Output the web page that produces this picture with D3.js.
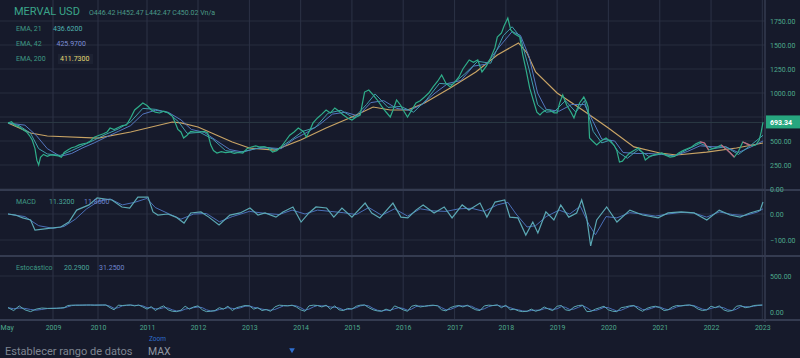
<!DOCTYPE html>
<html>
<head>
<meta charset="utf-8">
<script src="https://cdn.jsdelivr.net/npm/d3@7"></script>
<style>
  body { margin: 0; background: #161a2b; }
  svg { display: block; font-family: Roboto, "Open Sans", sans-serif; }
</style>
</head>
<body>
<div id="chart"></div>
<script>
// price series (weekly closes)
var priceData = [
  ["2008-05-01", 688], ["2008-05-20", 700], ["2008-06-10", 660], ["2008-07-01", 646], ["2008-07-20", 620],
  ["2008-08-10", 594], ["2008-08-25", 560], ["2008-09-10", 510], ["2008-09-25", 420], ["2008-10-05", 300],
  ["2008-10-15", 250], ["2008-10-25", 330], ["2008-11-10", 360], ["2008-12-01", 340], ["2008-12-20", 355],
  ["2009-01-15", 350], ["2009-02-15", 345], ["2009-03-10", 330], ["2009-04-01", 380], ["2009-05-01", 406],
  ["2009-06-01", 430], ["2009-07-01", 440], ["2009-08-01", 460], ["2009-09-01", 470], ["2009-10-01", 479],
  ["2009-11-01", 500], ["2009-12-01", 540], ["2010-01-10", 560], ["2010-02-10", 575], ["2010-03-10", 594],
  ["2010-04-01", 635], ["2010-05-01", 620], ["2010-06-01", 640], ["2010-07-01", 660], ["2010-08-01", 667],
  ["2010-09-01", 740], ["2010-10-01", 823], ["2010-11-01", 860], ["2010-12-01", 896], ["2011-01-01", 870],
  ["2011-02-01", 823], ["2011-03-01", 800], ["2011-04-01", 792], ["2011-05-01", 810], ["2011-06-01", 792],
  ["2011-07-01", 760], ["2011-07-20", 698], ["2011-08-10", 620], ["2011-09-01", 594], ["2011-09-20", 531],
  ["2011-10-15", 560], ["2011-11-10", 600], ["2011-12-10", 594], ["2012-01-15", 594], ["2012-02-15", 600],
  ["2012-03-10", 583], ["2012-04-01", 458], ["2012-04-20", 400], ["2012-05-15", 375], ["2012-06-15", 390],
  ["2012-07-15", 380], ["2012-08-15", 385], ["2012-09-15", 370], ["2012-10-15", 380], ["2012-11-15", 375],
  ["2012-12-15", 420], ["2013-01-15", 438], ["2013-02-15", 450], ["2013-03-15", 438], ["2013-04-15", 440],
  ["2013-05-15", 427], ["2013-06-15", 385], ["2013-07-15", 400], ["2013-08-15", 438], ["2013-09-15", 500],
  ["2013-10-15", 560], ["2013-11-15", 594], ["2013-12-15", 635], ["2014-01-20", 600], ["2014-02-10", 542],
  ["2014-03-10", 620], ["2014-03-30", 688], ["2014-05-01", 740], ["2014-06-01", 780], ["2014-07-01", 823],
  ["2014-08-01", 792], ["2014-09-01", 844], ["2014-10-01", 810], ["2014-11-01", 771], ["2014-12-01", 740],
  ["2015-01-01", 719], ["2015-02-01", 750], ["2015-03-01", 771], ["2015-04-01", 1010], ["2015-05-01", 1031],
  ["2015-06-01", 980], ["2015-07-01", 927], ["2015-08-01", 860], ["2015-09-01", 802], ["2015-10-01", 750],
  ["2015-10-20", 820], ["2015-11-15", 927], ["2015-12-15", 870], ["2016-01-01", 823], ["2016-02-01", 750],
  ["2016-03-01", 820], ["2016-04-01", 896], ["2016-05-01", 920], ["2016-06-01", 958], ["2016-07-01", 1000],
  ["2016-08-01", 1063], ["2016-09-01", 1120], ["2016-10-01", 1188], ["2016-11-01", 1100], ["2016-12-01", 1063],
  ["2017-01-01", 1110], ["2017-02-01", 1167], ["2017-03-01", 1250], ["2017-04-15", 1344], ["2017-05-15", 1320],
  ["2017-06-15", 1344], ["2017-07-15", 1219], ["2017-08-15", 1280], ["2017-09-15", 1365], ["2017-10-15", 1470],
  ["2017-11-01", 1583], ["2017-12-01", 1625], ["2017-12-20", 1700], ["2018-01-15", 1781], ["2018-02-05", 1656],
  ["2018-03-01", 1620], ["2018-04-10", 1583], ["2018-05-01", 1400], ["2018-05-25", 1240], ["2018-06-20", 1050],
  ["2018-07-15", 927], ["2018-08-10", 800], ["2018-09-01", 771], ["2018-09-20", 800], ["2018-10-15", 823],
  ["2018-11-10", 823], ["2018-12-10", 792], ["2019-01-01", 792], ["2019-01-20", 900], ["2019-02-10", 979],
  ["2019-03-10", 875], ["2019-04-10", 800], ["2019-05-01", 740], ["2019-05-20", 820], ["2019-06-10", 896],
  ["2019-07-10", 958], ["2019-07-30", 900], ["2019-08-10", 854], ["2019-08-20", 531], ["2019-09-10", 500],
  ["2019-10-10", 458], ["2019-11-10", 500], ["2019-12-15", 531], ["2020-01-10", 500], ["2020-02-10", 458],
  ["2020-03-01", 400], ["2020-03-20", 281], ["2020-04-10", 290], ["2020-05-01", 330], ["2020-06-01", 375],
  ["2020-07-01", 400], ["2020-08-01", 427], ["2020-09-01", 380], ["2020-09-20", 302], ["2020-10-15", 330],
  ["2020-11-15", 354], ["2020-12-15", 365], ["2021-01-15", 375], ["2021-02-15", 350], ["2021-03-15", 333],
  ["2021-04-15", 340], ["2021-05-15", 375], ["2021-06-15", 400], ["2021-07-15", 420], ["2021-08-15", 438],
  ["2021-09-15", 470], ["2021-10-15", 490], ["2021-11-15", 480], ["2021-12-15", 406], ["2022-01-15", 420],
  ["2022-02-15", 438], ["2022-03-15", 458], ["2022-04-15", 420], ["2022-05-15", 380], ["2022-06-15", 333],
  ["2022-07-15", 390], ["2022-08-15", 490], ["2022-09-15", 470], ["2022-10-15", 450], ["2022-11-15", 458],
  ["2022-12-10", 510], ["2022-12-25", 600], ["2023-01-06", 693]
];

var ema21Data = [
  ["2008-05-01", 688], ["2008-07-01", 660], ["2008-09-01", 580], ["2008-10-15", 420], ["2008-12-01", 365],
  ["2009-03-01", 350], ["2009-06-01", 400], ["2009-09-01", 455], ["2009-12-01", 510], ["2010-03-01", 570],
  ["2010-06-01", 625], ["2010-09-01", 700], ["2010-12-01", 840], ["2011-03-01", 830], ["2011-06-01", 795],
  ["2011-08-15", 700], ["2011-10-15", 580], ["2012-01-15", 590], ["2012-04-15", 520], ["2012-07-15", 400],
  ["2012-10-15", 380], ["2013-01-15", 410], ["2013-04-15", 440], ["2013-07-15", 410], ["2013-10-15", 500],
  ["2014-01-15", 600], ["2014-04-15", 640], ["2014-07-15", 790], ["2014-10-15", 820], ["2015-01-15", 740],
  ["2015-04-15", 880], ["2015-06-15", 990], ["2015-09-15", 850], ["2015-12-15", 860], ["2016-03-15", 800],
  ["2016-06-15", 930], ["2016-09-15", 1100], ["2016-12-15", 1090], ["2017-03-15", 1200], ["2017-06-15", 1330],
  ["2017-09-15", 1310], ["2017-12-15", 1600], ["2018-02-15", 1690], ["2018-04-15", 1580], ["2018-06-15", 1250],
  ["2018-08-15", 880], ["2018-10-15", 800], ["2018-12-15", 810], ["2019-03-01", 920], ["2019-05-15", 800],
  ["2019-07-15", 920], ["2019-09-15", 600], ["2019-11-15", 480], ["2020-01-15", 510], ["2020-03-15", 380],
  ["2020-05-15", 320], ["2020-08-01", 410], ["2020-10-15", 340], ["2021-01-15", 365], ["2021-04-15", 340],
  ["2021-07-15", 410], ["2021-10-15", 475], ["2022-01-15", 420], ["2022-04-15", 440], ["2022-07-15", 360],
  ["2022-10-15", 460], ["2023-01-06", 560]
];

var ema42Data = [
  ["2008-05-01", 688], ["2008-08-01", 665], ["2008-10-01", 560], ["2008-12-01", 420], ["2009-03-01", 340],
  ["2009-06-01", 370], ["2009-09-01", 430], ["2009-12-01", 480], ["2010-03-01", 540], ["2010-06-01", 600],
  ["2010-09-01", 660], ["2010-12-01", 780], ["2011-03-01", 820], ["2011-06-01", 800], ["2011-09-01", 720],
  ["2011-11-15", 620], ["2012-02-15", 590], ["2012-05-15", 500], ["2012-08-15", 410], ["2012-11-15", 385],
  ["2013-02-15", 420], ["2013-05-15", 430], ["2013-08-15", 420], ["2013-11-15", 520], ["2014-02-15", 590],
  ["2014-05-15", 670], ["2014-08-15", 780], ["2014-11-15", 800], ["2015-02-15", 760], ["2015-05-15", 900],
  ["2015-08-15", 920], ["2015-11-15", 840], ["2016-02-15", 820], ["2016-05-15", 880], ["2016-08-15", 1000],
  ["2016-11-15", 1100], ["2017-02-15", 1130], ["2017-05-15", 1280], ["2017-08-15", 1300], ["2017-11-15", 1480],
  ["2018-02-15", 1640], ["2018-04-15", 1600], ["2018-06-15", 1380], ["2018-08-15", 1000], ["2018-10-15", 830],
  ["2019-01-15", 810], ["2019-04-15", 880], ["2019-07-15", 880], ["2019-09-15", 700], ["2019-11-15", 520],
  ["2020-02-15", 500], ["2020-04-15", 380], ["2020-07-15", 370], ["2020-10-15", 370], ["2021-01-15", 360],
  ["2021-04-15", 345], ["2021-07-15", 390], ["2021-10-15", 450], ["2022-01-15", 440], ["2022-04-15", 440],
  ["2022-07-15", 380], ["2022-10-15", 440], ["2023-01-06", 500]
];

var ema200Data = [
  ["2008-05-01", 688], ["2008-09-01", 583], ["2008-12-01", 552], ["2010-01-01", 531], ["2010-09-01", 594],
  ["2011-07-01", 698], ["2011-09-01", 688], ["2012-01-01", 646], ["2012-09-01", 490], ["2013-01-01", 427],
  ["2013-07-01", 406], ["2014-01-01", 510], ["2014-07-01", 635], ["2015-01-01", 750], ["2015-06-01", 854],
  ["2015-10-01", 823], ["2016-02-01", 823], ["2016-06-01", 896], ["2016-12-01", 1052], ["2017-06-01", 1219],
  ["2017-11-01", 1396], ["2018-04-01", 1521], ["2018-06-01", 1417], ["2018-08-01", 1219], ["2019-01-01", 1000],
  ["2019-07-01", 823], ["2020-01-01", 635], ["2020-07-01", 438], ["2021-01-01", 375], ["2021-05-01", 354],
  ["2021-12-01", 385], ["2022-07-01", 427], ["2023-01-06", 479]
];

var macdData = [
  ["2008-05-01", 0], ["2008-06-10", -4], ["2008-07-20", -15], ["2008-09-01", -23], ["2008-09-25", -62],
  ["2008-12-20", -54], ["2009-03-05", -50], ["2009-05-10", -31], ["2009-07-12", 15], ["2009-10-20", 35],
  ["2009-12-25", 62], ["2010-04-15", 54], ["2010-06-28", 27], ["2010-08-25", 23], ["2010-10-25", 65],
  ["2011-01-08", 65], ["2011-02-13", 8], ["2011-03-20", -4], ["2011-05-30", 0], ["2011-07-27", -12],
  ["2011-09-23", -35], ["2011-11-10", 4], ["2012-01-22", 8], ["2012-03-18", -12], ["2012-05-30", -42],
  ["2012-08-15", -4], ["2012-10-27", 4], ["2013-01-05", 23], ["2013-03-03", -4], ["2013-04-22", 4],
  ["2013-07-09", -12], ["2013-08-28", 8], ["2013-11-07", 27], ["2014-01-04", -31], ["2014-03-01", 4],
  ["2014-04-20", 27], ["2014-07-05", 23], ["2014-08-25", -12], ["2014-10-22", 23], ["2015-01-01", -12],
  ["2015-04-05", 42], ["2015-05-22", 4], ["2015-07-19", -15], ["2015-10-20", 42], ["2015-12-16", -12],
  ["2016-02-03", -15], ["2016-04-01", 15], ["2016-05-22", 35], ["2016-08-08", 4], ["2016-10-19", 27],
  ["2016-12-14", -15], ["2017-02-24", 35], ["2017-04-13", 15], ["2017-07-01", 42], ["2017-08-19", -12],
  ["2017-10-16", 46], ["2017-12-24", 54], ["2018-01-30", -12], ["2018-03-28", -15], ["2018-05-23", -81],
  ["2018-07-12", -31], ["2018-08-17", -73], ["2018-10-13", 8], ["2018-12-09", -23], ["2019-01-27", 35],
  ["2019-03-25", -12], ["2019-05-20", 4], ["2019-06-25", 54], ["2019-07-30", -12], ["2019-08-28", -123],
  ["2019-10-10", -23], ["2019-12-20", 27], ["2020-03-02", -31], ["2020-06-02", 15], ["2020-09-01", -4],
  ["2020-12-20", -15], ["2021-03-01", 4], ["2021-06-02", 8], ["2021-09-02", 4], ["2021-12-02", -23],
  ["2022-02-28", 15], ["2022-05-16", -4], ["2022-07-27", -12], ["2022-10-05", 4], ["2022-12-17", 15],
  ["2023-01-06", 46]
];

var signalData = [
  ["2008-05-01", 0], ["2008-08-01", -10], ["2008-10-15", -45], ["2009-01-01", -55], ["2009-04-01", -48],
  ["2009-07-01", -20], ["2009-10-01", 20], ["2010-01-01", 48], ["2010-04-01", 58], ["2010-07-01", 35],
  ["2010-10-01", 45], ["2011-01-01", 60], ["2011-03-01", 25], ["2011-06-01", 2], ["2011-09-01", -20],
  ["2011-12-01", 0], ["2012-03-01", 2], ["2012-06-01", -30], ["2012-09-01", -10], ["2013-01-01", 10],
  ["2013-05-01", 2], ["2013-08-01", -2], ["2013-11-01", 15], ["2014-02-01", 0], ["2014-05-01", 15],
  ["2014-08-01", 10], ["2014-11-01", 5], ["2015-02-01", -2], ["2015-05-01", 25], ["2015-08-01", -5],
  ["2015-11-01", 20], ["2016-02-01", -8], ["2016-05-01", 20], ["2016-08-01", 12], ["2016-11-01", 10],
  ["2017-02-01", 20], ["2017-05-01", 22], ["2017-08-01", 10], ["2017-11-01", 35], ["2018-01-15", 45],
  ["2018-03-15", 0], ["2018-06-01", -50], ["2018-08-01", -45], ["2018-10-15", -10], ["2019-01-15", 15],
  ["2019-04-01", 0], ["2019-06-15", 30], ["2019-08-15", -40], ["2019-10-01", -80], ["2019-12-15", -10],
  ["2020-03-01", -15], ["2020-06-01", 5], ["2020-09-01", 0], ["2020-12-01", -8], ["2021-03-01", 0],
  ["2021-06-01", 6], ["2021-09-01", 4], ["2021-12-01", -12], ["2022-03-01", 8], ["2022-06-01", -2],
  ["2022-09-01", -6], ["2022-12-01", 8], ["2023-01-06", 20]
];

// stochastic, one value per month starting May 2008
var stochStart = "2008-05-01";
var stochK = [
  60, 20, 85, 30, 5, 40, 55, 50,
  50, 52, 55, 60, 90, 95, 95, 95, 96, 97, 97, 95,
  96, 97, 97, 60, 30, 95, 90, 95, 98, 85, 97, 70,
  40, 75, 20, 60, 85, 30, 10, 5, 25, 80, 40, 70,
  85, 30, 5, 10, 20, 60, 40, 80, 20, 60, 75, 90,
  85, 40, 60, 20, 35, 10, 70, 95, 90, 85, 95, 70,
  30, 10, 85, 95, 90, 70, 95, 40, 85, 30, 20, 50,
  40, 80, 95, 98, 60, 30, 15, 10, 40, 15, 85, 60,
  30, 10, 80, 95, 70, 80, 90, 95, 85, 30, 15, 60,
  80, 90, 70, 95, 60, 30, 20, 85, 95, 90, 98, 60,
  95, 30, 40, 15, 5, 10, 40, 10, 30, 70, 40, 20,
  80, 90, 30, 20, 70, 90, 95, 5, 10, 40, 60, 80,
  30, 10, 5, 60, 70, 85, 90, 40, 10, 50, 70, 80,
  60, 20, 30, 70, 90, 85, 95, 98, 80, 40, 20, 30,
  80, 60, 85, 30, 10, 20, 80, 90, 60, 70, 90, 95,
  97
];
var stochD = [
  60, 45, 55, 50, 35, 25, 35, 48,
  52, 52, 54, 57, 72, 88, 94, 95, 95, 96, 97, 96,
  96, 96, 97, 80, 50, 60, 85, 92, 95, 92, 92, 85,
  60, 60, 45, 45, 60, 55, 30, 15, 15, 40, 50, 60,
  70, 60, 30, 15, 15, 35, 45, 60, 50, 45, 60, 80,
  85, 65, 55, 40, 30, 25, 35, 60, 85, 88, 90, 85,
  60, 25, 40, 70, 90, 85, 85, 70, 65, 55, 30, 35,
  45, 60, 85, 95, 85, 50, 25, 15, 25, 25, 45, 60,
  50, 25, 40, 75, 85, 80, 85, 90, 90, 60, 30, 35,
  60, 85, 85, 85, 80, 50, 30, 45, 75, 90, 95, 80,
  80, 60, 40, 30, 15, 10, 20, 25, 25, 45, 50, 35,
  45, 75, 65, 35, 40, 65, 90, 60, 20, 20, 40, 65,
  60, 35, 15, 25, 50, 75, 85, 70, 35, 30, 50, 70,
  70, 45, 30, 45, 70, 85, 90, 95, 90, 65, 40, 30,
  50, 65, 70, 60, 30, 20, 40, 75, 75, 70, 80, 90,
  95
];

var yearTicks = ["2009", "2010", "2011", "2012", "2013", "2014", "2015", "2016",
                 "2017", "2018", "2019", "2020", "2021", "2022", "2023"];
var mainTicks = [0, 250, 500, 750, 1000, 1250, 1500, 1750];
var mainLabels = [0, 250, 500, 1000, 1250, 1500, 1750]; // 750 sits under the price tag
var macdTicks = [0, -100];
var stochTicks = [0, 500];
var lastPrice = 693.34;

var parse = d3.timeParse("%Y-%m-%d");
var toPts = arr => arr.map(d => ({date: parse(d[0]), value: d[1]}));
var price = toPts(priceData), ema21 = toPts(ema21Data), ema42 = toPts(ema42Data), ema200 = toPts(ema200Data);
var macd = toPts(macdData), signal = toPts(signalData);
var s0 = parse(stochStart);
var stK = stochK.map((v, i) => ({date: d3.timeMonth.offset(s0, i), value: v}));
var stD = stochD.map((v, i) => ({date: d3.timeMonth.offset(s0, i), value: v}));

var colors = {
  bg: '#161a2b', grid: '#262c3f', sep: '#343b50', vgrid: '#2c3246',
  label: '#4da88c', price: '#2fae8a', ema21: '#3f9fae', ema42: '#5577c0',
  ema200: '#c9a465', down: '#c8607e', macd: '#5ba8b4', signal: '#4a6fb8'
};

var svg = d3.select('#chart').append('svg')
  .attr('width', 800)
  .attr('height', 358);

svg.append('rect').attr('width', 800).attr('height', 358).attr('fill', colors.bg);

// time axis is irregular in the source (gaps in early data) so use knots
var x = d3.scaleTime()
  .domain([parse("2008-05-01"), parse("2009-01-01"), parse("2010-01-01"), parse("2011-01-01"),
           parse("2012-01-01"), parse("2023-01-06")])
  .range([8, 53, 98, 147, 198, 763]);

var yMain = d3.scaleLinear().domain([0, 1750]).range([189, 21]);
var yMacd = d3.scaleLinear().domain([-100, 0]).range([240, 214]);
var yStoch = d3.scaleLinear().domain([0, 500]).range([312, 276]);

var rightEdge = 765;

// horizontal grid
function hgrid(ticks, y) {
  svg.append('g').selectAll('line')
    .data(ticks).join('line')
    .attr('x1', 0).attr('x2', rightEdge)
    .attr('y1', d => y(d)).attr('y2', d => y(d))
    .attr('stroke', colors.grid).attr('stroke-width', 1);
}
hgrid(mainTicks, yMain);
hgrid(macdTicks, yMacd);
hgrid([500], yStoch);

// vertical year grid
var yearDates = yearTicks.map(t => parse(t + "-01-01"));
svg.append('g').selectAll('line')
  .data(yearDates).join('line')
  .attr('x1', d => x(d)).attr('x2', d => x(d))
  .attr('y1', 0).attr('y2', 320)
  .attr('stroke', colors.vgrid).attr('stroke-width', 1);

// panel separators
svg.append('g').selectAll('line')
  .data([190, 256, 320]).join('line')
  .attr('x1', 0).attr('x2', 800)
  .attr('y1', d => d).attr('y2', d => d)
  .attr('stroke', colors.sep).attr('stroke-width', 2);
svg.append('line')
  .attr('x1', rightEdge).attr('x2', rightEdge).attr('y1', 0).attr('y2', 322)
  .attr('stroke', colors.sep).attr('stroke-width', 1.5);

// last price line
svg.append('line')
  .attr('x1', 0).attr('x2', rightEdge)
  .attr('y1', yMain(lastPrice)).attr('y2', yMain(lastPrice))
  .attr('stroke', '#2b3a44').attr('stroke-width', 1);

// clip areas per panel
var defs = svg.append('defs');
defs.append('clipPath').attr('id', 'clipMain').append('rect').attr('x', 0).attr('y', 0).attr('width', rightEdge).attr('height', 189);
defs.append('clipPath').attr('id', 'clipMacd').append('rect').attr('x', 0).attr('y', 191).attr('width', rightEdge).attr('height', 64);
defs.append('clipPath').attr('id', 'clipStoch').append('rect').attr('x', 0).attr('y', 257).attr('width', rightEdge).attr('height', 62);

var lineMain = d3.line().x(d => x(d.date)).y(d => yMain(d.value));
var lineMacd = d3.line().x(d => x(d.date)).y(d => yMacd(d.value));
var lineStoch = d3.line().x(d => x(d.date)).y(d => yStoch(d.value));

var mainG = svg.append('g').attr('clip-path', 'url(#clipMain)');
mainG.append('path').datum(ema200).attr('d', lineMain)
  .attr('fill', 'none').attr('stroke', colors.ema200).attr('stroke-width', 1.2);
mainG.append('path').datum(ema42).attr('d', lineMain)
  .attr('fill', 'none').attr('stroke', colors.ema42).attr('stroke-width', 1);
mainG.append('path').datum(ema21).attr('d', lineMain)
  .attr('fill', 'none').attr('stroke', colors.ema21).attr('stroke-width', 1);
mainG.append('path').datum(price).attr('d', lineMain)
  .attr('fill', 'none').attr('stroke', colors.price).attr('stroke-width', 1.2);

// down weeks in the recent part are drawn red like the candles
var recent = parse("2021-03-01");
var downSegs = d3.pairs(price).filter(p => p[0].date >= recent && p[1].value < p[0].value);
mainG.append('g').selectAll('path')
  .data(downSegs).join('path')
  .attr('d', d => lineMain(d))
  .attr('fill', 'none').attr('stroke', colors.down).attr('stroke-width', 1.2);

var macdG = svg.append('g').attr('clip-path', 'url(#clipMacd)');
macdG.append('path').datum(signal).attr('d', lineMacd)
  .attr('fill', 'none').attr('stroke', colors.signal).attr('stroke-width', 1);
macdG.append('path').datum(macd).attr('d', lineMacd)
  .attr('fill', 'none').attr('stroke', colors.macd).attr('stroke-width', 1.2);

var stochG = svg.append('g').attr('clip-path', 'url(#clipStoch)');
stochG.append('path').datum(stD).attr('d', lineStoch)
  .attr('fill', 'none').attr('stroke', colors.signal).attr('stroke-width', 1);
stochG.append('path').datum(stK).attr('d', lineStoch)
  .attr('fill', 'none').attr('stroke', colors.macd).attr('stroke-width', 1);

// right axes
function rightAxis(ticks, y) {
  var g = svg.append('g')
    .attr('transform', `translate(${rightEdge},0)`)
    .call(d3.axisRight(y).tickValues(ticks).tickSize(0).tickPadding(5).tickFormat(d3.format('.2f')));
  g.select('.domain').remove();
  g.selectAll('text').attr('fill', colors.label).attr('font-size', '7px').attr('font-family', 'Roboto');
}
rightAxis(mainLabels, yMain);
rightAxis(macdTicks, yMacd);
rightAxis(stochTicks, yStoch);

// last price tag
svg.append('rect')
  .attr('x', rightEdge + 1).attr('y', yMain(lastPrice) - 7)
  .attr('width', 34).attr('height', 13)
  .attr('fill', '#27a67f');
svg.append('text')
  .attr('x', rightEdge + 5).attr('y', yMain(lastPrice) + 2.5)
  .attr('fill', '#ffffff').attr('font-size', '7px').attr('font-weight', 'bold')
  .text(d3.format('.2f')(lastPrice));

// bottom time axis
var xTickDates = [parse("2008-04-24")].concat(yearDates);
var xg = svg.append('g')
  .attr('transform', 'translate(0,322)')
  .call(d3.axisBottom(x).tickValues(xTickDates).tickSize(0).tickPadding(3)
    .tickFormat((d, i) => i == 0 ? 'May' : yearTicks[i - 1]));
xg.select('.domain').remove();
xg.selectAll('text').attr('fill', colors.label).attr('font-size', '7px').attr('font-family', 'Roboto');

// legends
var legend = svg.append('g').attr('font-family', 'Roboto');
legend.append('text').attr('x', 14).attr('y', 15).attr('font-size', '11px').attr('fill', '#3aa58a').text('MERVAL USD');
legend.append('text').attr('x', 89).attr('y', 15).attr('font-size', '7px').attr('fill', '#4b9a88')
  .text('O446.42  H452.47  L442.47  C450.02  Vn/a');

var emaRows = [
  {name: 'EMA, 21', val: '436.6200', color: '#4fb3b0', y: 31},
  {name: 'EMA, 42', val: '425.9700', color: '#7d8fd8', y: 46},
  {name: 'EMA, 200', val: '411.7300', color: '#e3d870', y: 61}
];
legend.selectAll('text.ema')
  .data(emaRows).join('text')
  .attr('class', 'ema')
  .attr('x', 16).attr('y', d => d.y)
  .attr('font-size', '7px').attr('fill', '#3f9a85')
  .text(d => d.name);
legend.selectAll('rect.emabg')
  .data(emaRows.slice(2)).join('rect')
  .attr('class', 'emabg')
  .attr('x', 58).attr('y', d => d.y - 7).attr('width', 35).attr('height', 10)
  .attr('fill', '#1d2233');
legend.selectAll('text.emaval')
  .data(emaRows).join('text')
  .attr('class', 'emaval')
  .attr('x', (d, i) => 53 + i * 3.5).attr('y', d => d.y)
  .attr('font-size', '7px').attr('fill', d => d.color)
  .text(d => d.val);

legend.append('text').attr('x', 16).attr('y', 204).attr('font-size', '7px').attr('fill', '#3f9a85').text('MACD');
legend.append('text').attr('x', 49).attr('y', 204).attr('font-size', '7px').attr('fill', '#4aa59a').text('11.3200');
legend.append('text').attr('x', 84).attr('y', 204).attr('font-size', '7px').attr('fill', '#6f86cf').text('11.8600');

legend.append('text').attr('x', 16).attr('y', 270).attr('font-size', '7px').attr('fill', '#3f9a85').text('Estocástico');
legend.append('text').attr('x', 64).attr('y', 270).attr('font-size', '7px').attr('fill', '#4aa59a').text('20.2900');
legend.append('text').attr('x', 99).attr('y', 270).attr('font-size', '7px').attr('fill', '#6f86cf').text('31.2500');

// range selector below the chart
var ctrl = svg.append('g').attr('font-family', 'Roboto');
ctrl.append('text').attr('x', 5).attr('y', 355).attr('font-size', '11px').attr('fill', '#7f8591').text('Establecer rango de datos');
ctrl.append('text').attr('x', 149).attr('y', 341).attr('font-size', '6.5px').attr('fill', '#2f6fd0').text('Zoom');
ctrl.append('text').attr('x', 148).attr('y', 355).attr('font-size', '10.5px').attr('fill', '#9096a0').text('MAX');
ctrl.append('path')
  .attr('d', d3.symbol(d3.symbolTriangle, 14)())
  .attr('transform', 'translate(292,350) rotate(180)')
  .attr('fill', '#2f6fd0');
</script>
</body>
</html>
